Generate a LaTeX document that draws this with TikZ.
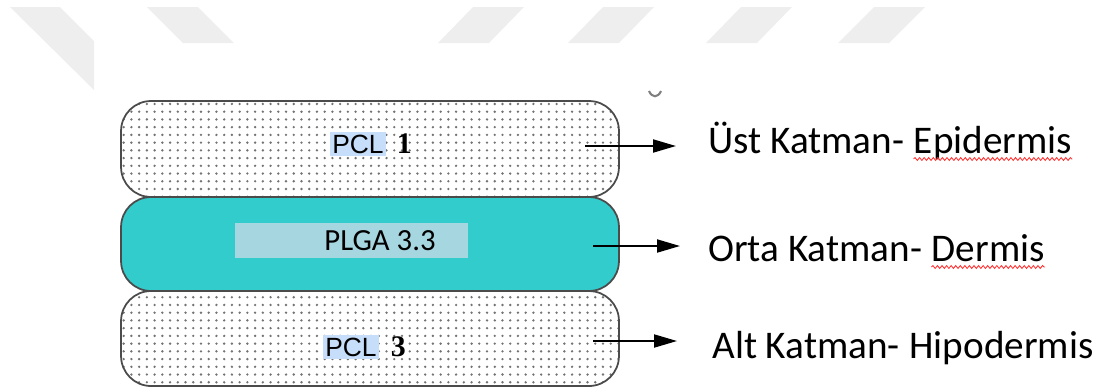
\documentclass[tikz,border=0pt]{standalone}
\usepackage{fontspec}
\setmainfont{Carlito}
\newfontfamily\pclfont{Liberation Sans}
\newfontfamily\numfont{Liberation Serif}
\usetikzlibrary{patterns.meta,arrows.meta,decorations.pathmorphing}

\definecolor{tealfill}{RGB}{51,204,204}
\definecolor{plgahl}{RGB}{166,214,224}
\definecolor{pclhl}{RGB}{198,222,250}
\definecolor{stripegray}{RGB}{238,238,238}
\definecolor{edgegray}{RGB}{75,75,75}

\tikzset{
  layer/.style = {draw=edgegray, line width=1pt, rounded corners=0.6cm, minimum width=9.96cm, inner sep=0pt},
  dotlayer/.style = {layer, pattern={Dots[distance=4.4pt, radius=0.75pt]}, pattern color=black!55},
  sidelabel/.style = {anchor=base west, inner sep=0pt, font=\fontsize{22.3}{26}\selectfont},
  pcllabel/.style = {anchor=base, fill=pclhl, inner sep=1.5pt, font=\pclfont\fontsize{15}{17}\selectfont},
  numlabel/.style = {anchor=base west, inner sep=0pt, font=\numfont\bfseries\fontsize{17}{19}\selectfont},
  pointer/.style = {-{Triangle[length=0.46cm, width=0.26cm]}, line width=1.1pt},
  spellmark/.style = {red!80!white, line width=0.5pt, decorate, decoration={snake, amplitude=0.8pt, segment length=2.6pt}}
}

\begin{document}
\begin{tikzpicture} [x = 0.02cm, y = -0.02cm]
\useasboundingbox (0,0) rectangle (1105,390);
\fill[stripegray] (10,7) -- (60,7) -- (94,41) -- (94,90) -- cycle;
\foreach \t/\d in {147/36, 473/-35, 603/-35, 741/-35, 874/-36}
  \fill[stripegray] (\t,7) -- ++(51,0) -- ++(\d,36) -- ++(-51,0) -- cycle;
\draw[gray, line width=1.2pt] (649,91) .. controls (652,98) and (658,98) .. (661,91);

\node[dotlayer, minimum height=1.92cm] (pcl1) at (370,149) {};
\node[dotlayer, minimum height=1.9cm] (pcl3) at (370,338.5) {};
\node[layer, fill=tealfill, minimum height=1.88cm] (plga) at (370,244) {};

\fill[plgahl] (235,223) rectangle (468,258);
\node[anchor=base, inner sep=0pt, font=\fontsize{17.5}{20}\selectfont] (plgatext) at (380,250) {PLGA 3.3};

\node[pcllabel] (pcltop) at (358,153) {PCL};
\node[numlabel] (numtop) at ([xshift=0.2cm]pcltop.base east) {1};
\node[pcllabel] (pclbot) at (351,356) {PCL};
\node[numlabel] (numbot) at ([xshift=0.22cm]pclbot.base east) {3};

\node[sidelabel] (ust) at (708,153) {Üst Katman-};
\node[sidelabel] (epi) at ([xshift=0.18cm]ust.base east) {Epidermis};
\node[sidelabel] (orta) at (708,261) {Orta Katman-};
\node[sidelabel] (der) at ([xshift=0.18cm]orta.base east) {Dermis};
\node[sidelabel] (alt) at (712,358) {Alt Katman-};
\node[sidelabel] (hipo) at ([xshift=0.18cm]alt.base east) {Hipodermis};

\draw[spellmark] ([yshift=-0.12cm]epi.base west) -- ([yshift=-0.12cm]epi.base east);
\draw[spellmark] ([yshift=-0.12cm]der.base west) -- ([yshift=-0.12cm]der.base east);

\coordinate (s1) at (585,146);
\coordinate (s2) at (593,246);
\coordinate (s3) at (593,341);
\draw[pointer, shorten >=0.64cm] (s1) -- (s1 -| ust.west);
\draw[pointer, shorten >=0.56cm] (s2) -- (s2 -| orta.west);
\draw[pointer, shorten >=0.7cm] (s3) -- (s3 -| alt.west);
\end{tikzpicture}
\end{document}
